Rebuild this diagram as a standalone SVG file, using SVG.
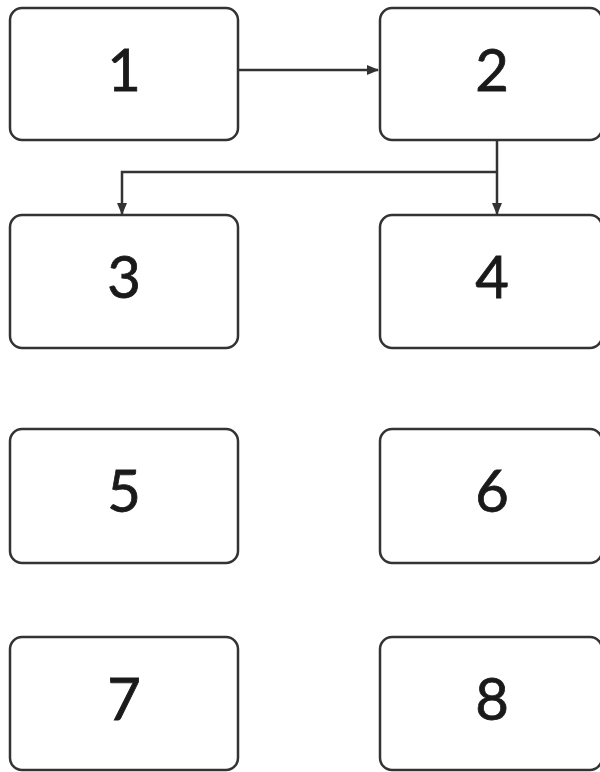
<svg xmlns="http://www.w3.org/2000/svg" width="600" height="772" viewBox="0 0 600 772">
<style>
.box{fill:#fff;stroke:#333;stroke-width:2.5}
.lbl{font-family:Lato,"Liberation Sans",sans-serif;font-size:58px;fill:#1a1a1a;text-anchor:middle;stroke:#1a1a1a;stroke-width:0.8}
.con{fill:none;stroke:#333;stroke-width:2.5}
</style>
<defs>
<marker id="ah" markerWidth="12" markerHeight="10" refX="11" refY="5" orient="auto" markerUnits="userSpaceOnUse">
<path d="M0,0 L12,5 L0,10 Z" fill="#333"/>
</marker>
</defs>
<rect width="600" height="772" fill="#fff"/>
<g id="n1"><rect class="box" x="10" y="8" width="228" height="132" rx="12"/><text class="lbl" x="124" y="91">1</text></g>
<g id="n2"><rect class="box" x="380" y="8" width="222" height="132" rx="12"/><text class="lbl" x="492" y="91">2</text></g>
<g id="n3"><rect class="box" x="10" y="215" width="228" height="133" rx="12"/><text class="lbl" x="124" y="298">3</text></g>
<g id="n4"><rect class="box" x="380" y="215" width="222" height="133" rx="12"/><text class="lbl" x="492" y="298">4</text></g>
<g id="n5"><rect class="box" x="10" y="429" width="228" height="134" rx="12"/><text class="lbl" x="124" y="512">5</text></g>
<g id="n6"><rect class="box" x="380" y="429" width="222" height="134" rx="12"/><text class="lbl" x="492" y="512">6</text></g>
<g id="n7"><rect class="box" x="10" y="637" width="228" height="133" rx="12"/><text class="lbl" x="124" y="720">7</text></g>
<g id="n8"><rect class="box" x="380" y="637" width="222" height="133" rx="12"/><text class="lbl" x="492" y="720">8</text></g>
<g id="connectors">
<path class="con" d="M238,70 L378,70" marker-end="url(#ah)"/>
<path class="con" d="M497,140 L497,214" marker-end="url(#ah)"/>
<path class="con" d="M497,172 L122,172 L122,214" marker-end="url(#ah)"/>
</g>
</svg>
